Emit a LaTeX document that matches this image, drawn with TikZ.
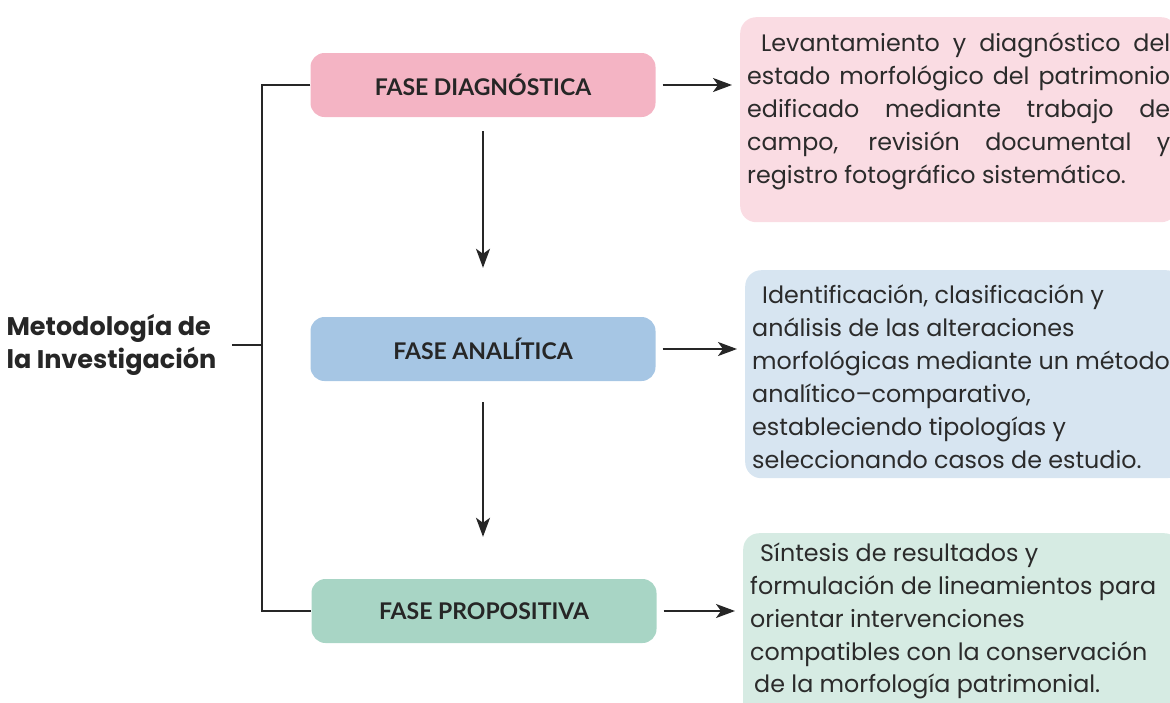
\documentclass[tikz,border=0pt]{standalone}
\usepackage{fontspec}
\setmainfont{Poppins}
\newfontfamily\headfont{Lato}
\usetikzlibrary{arrows.meta}

\definecolor{pinkF}{HTML}{F4B4C4}
\definecolor{blueF}{HTML}{A6C6E4}
\definecolor{greenF}{HTML}{A8D5C5}
\definecolor{pinkD}{HTML}{FADCE3}
\definecolor{blueD}{HTML}{D7E5F1}
\definecolor{greenD}{HTML}{D6EBE3}
\definecolor{ink}{HTML}{2B2B2B}

\tikzset{
    fase/.style={rounded corners=14pt, minimum width=345pt, minimum height=64pt,
        font=\headfont\bfseries\fontsize{23}{27}\selectfont, text=black!85},
    desc/.style={rounded corners=16pt, anchor=north west, inner xsep=7pt, inner ysep=0pt,
        text=ink, font=\fontsize{23.8}{33}\selectfont},
    conn/.style={line width=2pt, black!85},
    flecha/.style={conn, -{Stealth[length=19pt,width=14pt,inset=5pt]}}
}

\begin{document}
\begin{tikzpicture}[x=1pt, y=-1pt]
    \useasboundingbox (0,0) rectangle (1170,702);

    % Title
    \node[anchor=west, align=left, text=black!85,
        font=\bfseries\fontsize{25.5}{33}\selectfont] (meto) at (3,345)
        {Metodología de\\la Investigación};

    % Phases
    \node[fase, fill=pinkF] (diag) at (483,85) {FASE DIAGNÓSTICA};
    \node[fase, fill=blueF] (anal) at (483,349) {FASE ANALÍTICA};
    \node[fase, fill=greenF] (prop) at (484,611) {FASE PROPOSITIVA};

    % Bracket
    \coordinate (brk) at (262,345);
    \draw[conn] (diag.west) -- (diag.west -| brk) -- (prop.west -| brk) -- (prop.west);
    \draw[conn, shorten <=12pt] (meto.east) -- (meto.east -| brk);

    % Flow between phases
    \draw[flecha, shorten <=14pt, shorten >=49pt] (diag.south) -- (anal.north);
    \draw[flecha, shorten <=21pt, shorten >=42pt] (anal.south) -- (anal.south |- prop.north);

    % Descriptions
    \node[desc, fill=pinkD] (dA) at (740,17)
        {\parbox[t][205pt][t]{423pt}{\vspace*{11pt}\strut\hspace*{14pt}Levantamiento y diagnóstico del\linebreak
        estado morfológico del patrimonio\linebreak
        edificado mediante trabajo de\linebreak
        campo, revisión documental y\linebreak
        registro fotográfico sistemático.}};
    \node[desc, fill=blueD] (dB) at (745,270)
        {\parbox[t][208pt][t]{423pt}{\raggedright\vspace*{10pt}\strut\hspace*{10pt}Identificación, clasificación y\\
        análisis de las alteraciones\\
        morfológicas mediante un método\\
        analítico–comparativo,\\
        estableciendo tipologías y\\
        seleccionando casos de estudio.}};
    \node[desc, fill=greenD] (dC) at (743,533)
        {\parbox[t][200pt][t]{423pt}{\raggedright\vspace*{5pt}\strut\hspace*{10pt}Síntesis de resultados y\\
        formulación de lineamientos para\\
        orientar intervenciones\\
        compatibles con la conservación\\[-1pt]
        \hspace*{4pt}de la morfología patrimonial.}};

    % Phase to description
    \draw[flecha, shorten <=7pt, shorten >=8pt] (diag.east) -- (diag.east -| dA.west);
    \draw[flecha, shorten <=7pt, shorten >=8pt] (anal.east) -- (anal.east -| dB.west);
    \draw[flecha, shorten <=7pt, shorten >=8pt] (prop.east) -- (prop.east -| dC.west);
\end{tikzpicture}
\end{document}
